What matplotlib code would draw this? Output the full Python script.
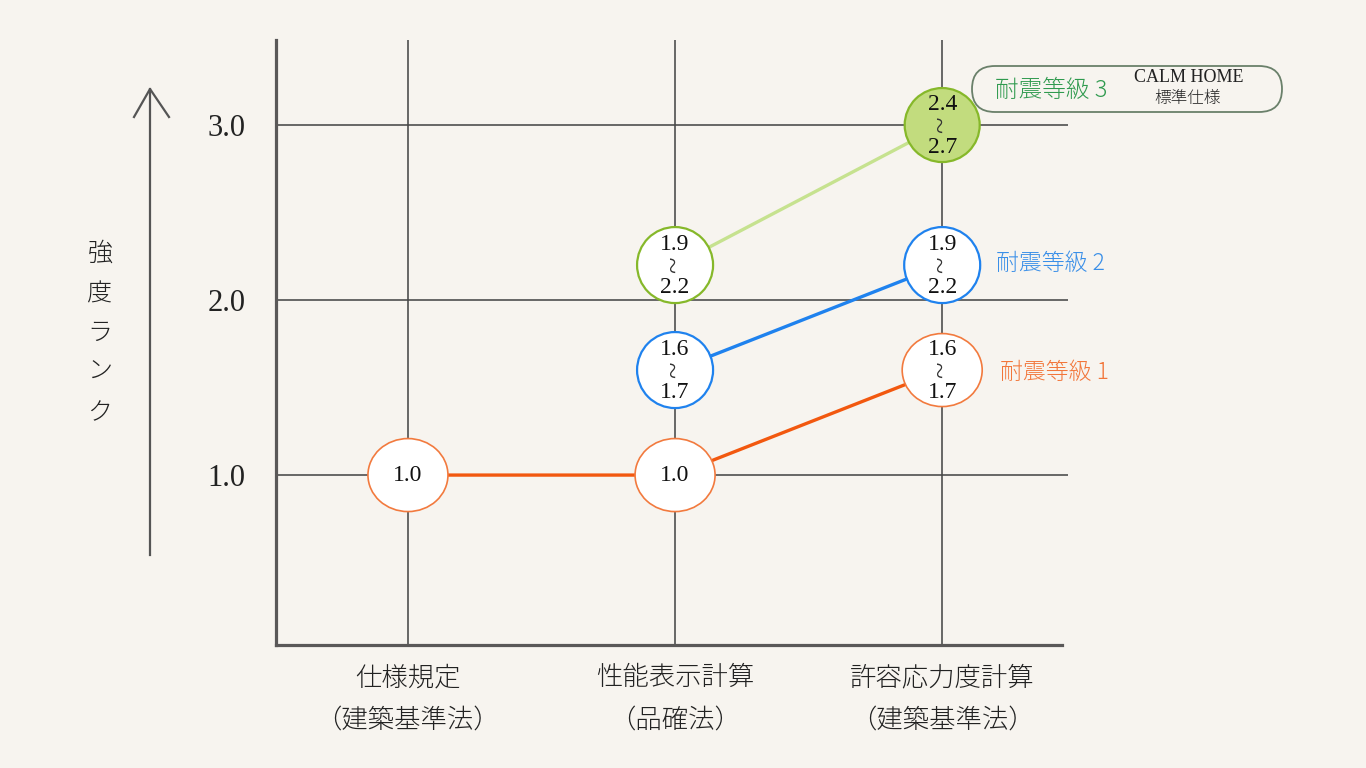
import matplotlib
matplotlib.use("Agg")
import matplotlib.pyplot as plt
from matplotlib.patches import Ellipse, FancyBboxPatch
from matplotlib.lines import Line2D
from matplotlib.transforms import blended_transform_factory, IdentityTransform

# ---- data ----
categories_main = ["仕様規定", "性能表示計算", "許容応力度計算"]
categories_sub = ["（建築基準法）", "（品確法）", "（建築基準法）"]
y_ticks = [1.0, 2.0, 3.0]
y_tick_labels = ["1.0", "2.0", "3.0"]

grade1_x = [0, 1, 2]
grade1_y = [1.0, 1.0, 1.6]
grade1_low = ["1.0", "1.0", "1.6"]
grade1_high = [None, None, "1.7"]

grade2_x = [1, 2]
grade2_y = [1.6, 2.2]
grade2_low = ["1.6", "1.9"]
grade2_high = ["1.7", "2.2"]

grade3_x = [1, 2]
grade3_y = [2.2, 3.0]
grade3_low = ["1.9", "2.4"]
grade3_high = ["2.2", "2.7"]

label1 = "耐震等級 1"
label2 = "耐震等級 2"
label3 = "耐震等級 3"
brand1 = "CALM HOME"
brand2 = "標準仕様"
ylabel_chars = ["強", "度", "ラ", "ン", "ク"]

# ---- style ----
BG = "#f7f4ef"
GRID = "#474747"
SPINE = "#5a5858"
ORANGE_LINE = "#f2580f"
ORANGE_EDGE = "#f27a3e"
BLUE = "#1f82ee"
GREEN_EDGE = "#86b82a"
GREEN_LINE = "#c6e28f"
GREEN_FILL = "#c2dc7e"
SERIF = ["Liberation Serif", "DejaVu Serif"]
JP = ["Noto Sans CJK JP", "DejaVu Sans"]
JPW = "light"

W, H = 1366, 768
fig = plt.figure(figsize=(W / 100, H / 100), dpi=100, facecolor=BG)
L, R, T, B = 276, 1068, 40, 645
ax = fig.add_axes([L / W, 1 - B / H, (R - L) / W, (B - T) / H])
ax.set_facecolor(BG)
xmin, xmax = -0.494, 2.471
ymin, ymax = 0.029, 3.486
ax.set_xlim(xmin, xmax)
ax.set_ylim(ymin, ymax)
px_x = (R - L) / (xmax - xmin)
px_y = (B - T) / (ymax - ymin)

for s in ["top", "right"]:
    ax.spines[s].set_visible(False)
for s in ["left", "bottom"]:
    ax.spines[s].set_color(SPINE)
    ax.spines[s].set_linewidth(2.3)
ax.spines["bottom"].set_bounds(xmin, 2.45)

ax.set_xticks([0, 1, 2])
ax.set_xticklabels([])
ax.set_yticks(y_ticks)
ax.set_yticklabels(y_tick_labels, fontfamily=SERIF, fontsize=22, color="#222")
ax.tick_params(axis="both", length=0)
ax.tick_params(axis="y", pad=22)
ax.grid(True, color=GRID, linewidth=1.15, zorder=1)
ax.set_axisbelow(True)

# category labels
tr = blended_transform_factory(ax.transData, fig.transFigure)
for i, (m, s) in enumerate(zip(categories_main, categories_sub)):
    ax.text(i, 1 - 677 / H, m, transform=tr, ha="center", va="center",
            fontfamily=JP, fontweight=JPW, fontsize=19, color="#222")
    ax.text(i, 1 - 720 / H, s, transform=tr, ha="center", va="center",
            fontfamily=JP, fontweight=JPW, fontsize=19, color="#222")

# connecting lines
ax.plot(grade1_x, grade1_y, color=ORANGE_LINE, lw=2.4, zorder=3, solid_capstyle="butt")
ax.plot(grade2_x, grade2_y, color=BLUE, lw=2.4, zorder=3)
ax.plot(grade3_x, grade3_y, color=GREEN_LINE, lw=2.4, zorder=3)


def bubbles(xs, ys, lows, highs, edge, fill, wpx, hpx, elw):
    for x, y, lo, hi in zip(xs, ys, lows, highs):
        e = Ellipse((x, y), wpx / px_x, hpx / px_y, facecolor=fill,
                    edgecolor=edge, lw=elw, zorder=4)
        ax.add_patch(e)
        if hi is None:
            ax.text(x, y, lo, ha="center", va="center", fontfamily=SERIF,
                    fontsize=17, color="#111", zorder=5)
        else:
            ax.annotate(lo, (x, y), xytext=(0, 15), textcoords="offset points",
                        ha="center", va="center", fontfamily=SERIF,
                        fontsize=17, color="#111", zorder=5)
            ax.annotate(hi, (x, y), xytext=(0, -16), textcoords="offset points",
                        ha="center", va="center", fontfamily=SERIF,
                        fontsize=17, color="#111", zorder=5)
            ax.text(x, y, "~", ha="center", va="center", fontfamily=SERIF,
                    fontsize=22, rotation=90, color="#333", zorder=5)


bubbles(grade1_x, grade1_y, grade1_low, grade1_high, ORANGE_EDGE, "white", 80, 73, 1.2)
bubbles(grade2_x, grade2_y, grade2_low, grade2_high, BLUE, "white", 76, 76, 1.6)
bubbles(grade3_x[:1], grade3_y[:1], grade3_low[:1], grade3_high[:1], GREEN_EDGE, "white", 76, 76, 1.6)
bubbles(grade3_x[1:], grade3_y[1:], grade3_low[1:], grade3_high[1:], GREEN_EDGE, GREEN_FILL, 75, 74, 1.6)

# grade labels
fig.text(1000 / W, 1 - 372 / H, label1, ha="left", va="center", fontfamily=JP,
         fontweight=JPW, fontsize=16.5, color="#f2763a")
fig.text(996 / W, 1 - 263 / H, label2, ha="left", va="center", fontfamily=JP,
         fontweight=JPW, fontsize=16.5, color="#3a8fe8")
box = FancyBboxPatch((972, H - 112), 1282 - 972, 112 - 66,
                     boxstyle="round,pad=0,rounding_size=23",
                     transform=IdentityTransform(), facecolor=BG, edgecolor="#6a806a",
                     lw=1.3)
fig.add_artist(box)
fig.text(995 / W, 1 - 90 / H, label3, ha="left", va="center", fontfamily=JP,
         fontweight=JPW, fontsize=17, color="#2f9a4e")
fig.text(1189 / W, 1 - 77 / H, brand1, ha="center", va="center", fontfamily=SERIF,
         fontsize=13, color="#222")
fig.text(1188 / W, 1 - 99 / H, brand2, ha="center", va="center", fontfamily=JP,
         fontweight=JPW, fontsize=12, color="#222")

# y-axis arrow and label
ARW = "#555"
fig.add_artist(Line2D([150 / W, 150 / W], [1 - 555 / H, 1 - 89 / H],
                      transform=fig.transFigure, color=ARW, lw=1.6))
fig.add_artist(Line2D([134 / W, 150 / W, 169 / W], [1 - 117 / H, 1 - 89 / H, 1 - 117 / H],
                      transform=fig.transFigure, color=ARW, lw=1.6))
for ch, yp in zip(ylabel_chars, [253, 294, 333, 372, 413]):
    fig.text(100 / W, 1 - yp / H, ch, ha="center", va="center", fontfamily=JP,
             fontweight=JPW, fontsize=18, color="#222")

fig.savefig("out.png", dpi=100, facecolor=BG)
